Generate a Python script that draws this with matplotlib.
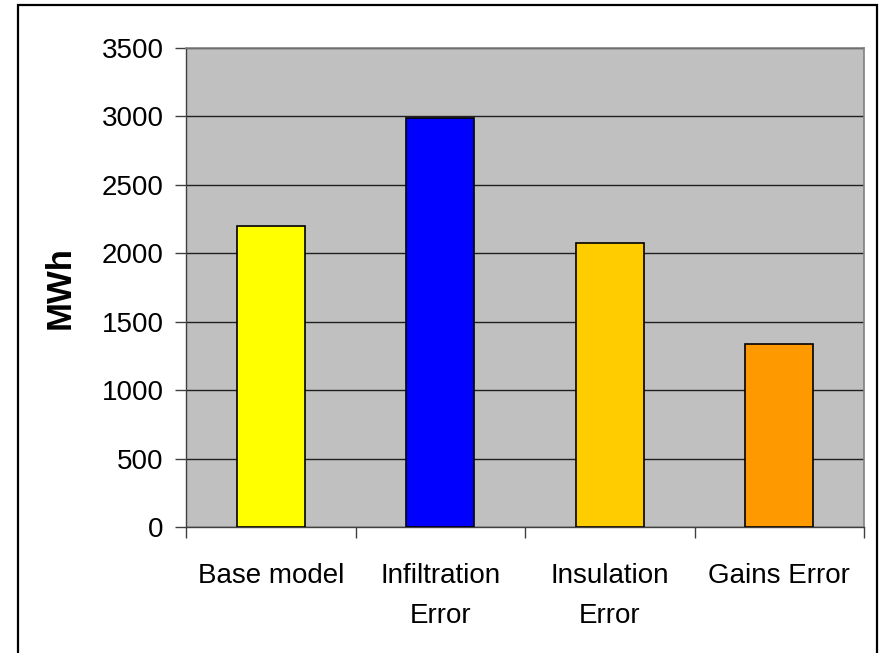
import matplotlib.pyplot as plt
import numpy as np
from matplotlib.patches import Rectangle

plt.rcParams['font.family'] = ['Liberation Sans', 'DejaVu Sans']

categories = ['Base model', 'Infiltration\nError', 'Insulation\nError', 'Gains Error']
energy_mwh = [2200, 2990, 2075, 1340]
bar_colors = ['#FFFF00', '#0000FF', '#FFCC00', '#FF9900']
y_ticks = [0, 500, 1000, 1500, 2000, 2500, 3000, 3500]


def main():
    fig = plt.figure(figsize=(8.81, 6.53), dpi=100)
    W, H = 881, 653

    # outer chart border (bottom edge falls off the picture)
    fig.patches.append(Rectangle((18 / W, -0.02), 859 / W, 1.02 - 5 / H,
                                 transform=fig.transFigure, fill=False,
                                 edgecolor='black', linewidth=1.6))

    ax = fig.add_axes([186 / W, 1 - 527 / H, 678 / W, 479 / H])
    ax.set_facecolor('#C0C0C0')

    x = np.arange(len(categories))
    ax.bar(x, energy_mwh, width=0.4, color=bar_colors,
           edgecolor='black', linewidth=1.2, zorder=3)

    ax.set_xlim(-0.5, len(categories) - 0.5)
    ax.set_ylim(0, 3500)
    ax.set_yticks(y_ticks)
    ax.set_yticklabels([str(v) for v in y_ticks], fontsize=20)
    ax.yaxis.grid(True, color='#202020', linewidth=1.0, zorder=1)
    ax.set_axisbelow(True)

    # category labels centred between boundary ticks
    ax.set_xticks(np.arange(len(categories) + 1) - 0.5)
    ax.set_xticklabels([])
    ax.set_xticks(x, minor=True)
    ax.set_xticklabels(categories, minor=True, fontsize=20, linespacing=1.7)
    ax.tick_params(axis='x', which='minor', length=0, pad=26)
    ax.tick_params(axis='x', which='major', length=8, width=1, color='#404040', direction='out')
    ax.tick_params(axis='y', length=8, width=1, color='#404040', pad=8)

    ax.set_ylabel('MWh', fontsize=25, fontweight='bold', labelpad=18)

    for side in ['left', 'bottom']:
        ax.spines[side].set_color('#404040')
        ax.spines[side].set_linewidth(1.0)
    for side in ['top', 'right']:
        ax.spines[side].set_color('#808080')
        ax.spines[side].set_linewidth(1.2)

    plt.savefig('out.png', dpi=100)


main()
